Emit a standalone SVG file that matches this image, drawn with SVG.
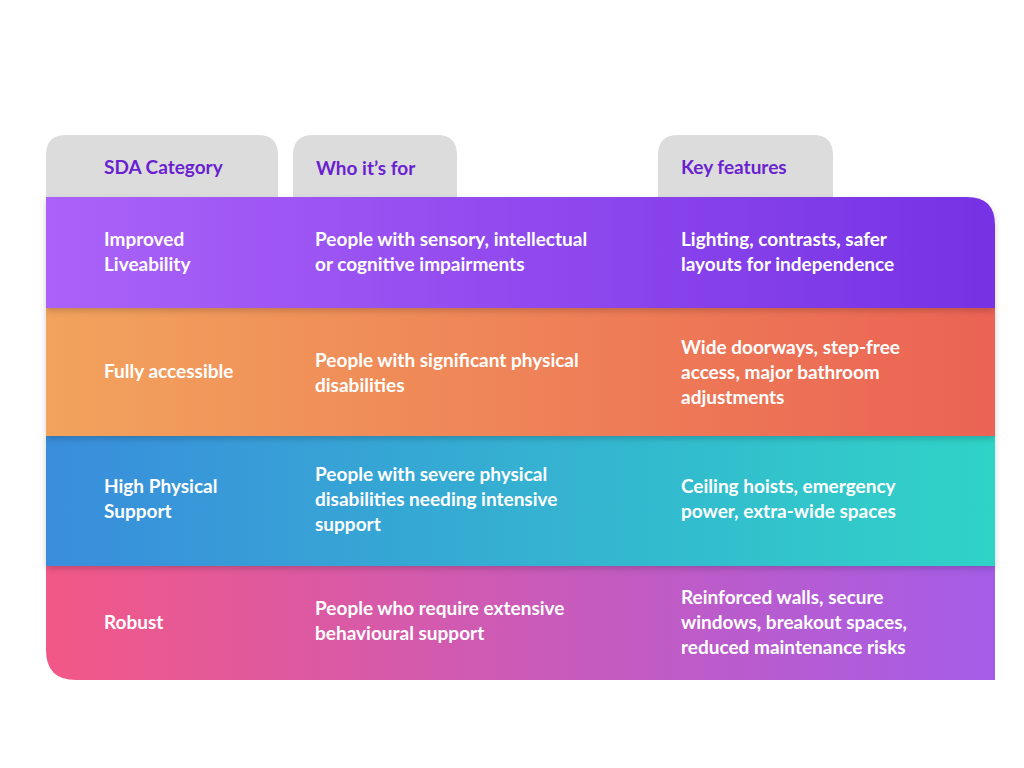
<svg xmlns="http://www.w3.org/2000/svg" width="1024" height="768" viewBox="0 0 1024 768">
<style>
.h{font-family:Lato,"Open Sans",sans-serif;font-weight:700;font-size:19px;fill:#6a1fd0}
.t{font-family:Lato,"Open Sans",sans-serif;font-weight:700;font-size:19px;fill:#fff}
.tab{fill:#dcdcdc}
</style>
<defs>
<linearGradient id="g1" x1="0" x2="1"><stop offset="0" stop-color="#ab62f9"/><stop offset="1" stop-color="#7632e4"/></linearGradient>
<linearGradient id="g2" x1="0" x2="1"><stop offset="0" stop-color="#f2a35c"/><stop offset="1" stop-color="#eb6354"/></linearGradient>
<linearGradient id="g3" x1="0" x2="1"><stop offset="0" stop-color="#3a8ddc"/><stop offset="1" stop-color="#2fd3c7"/></linearGradient>
<linearGradient id="g4" x1="0" x2="1"><stop offset="0" stop-color="#f25886"/><stop offset="1" stop-color="#a55de8"/></linearGradient>
<filter id="sh" x="-5%" y="-20%" width="110%" height="140%"><feDropShadow dx="0" dy="3" stdDeviation="3" flood-color="#000" flood-opacity="0.18"/></filter>
</defs>
<rect width="1024" height="768" fill="#fff"/>
<g id="headers">
<path class="tab" d="M46,197 V155 Q46,135 66,135 H258 Q278,135 278,155 V197 Z"/>
<path class="tab" d="M293,197 V155 Q293,135 313,135 H437 Q457,135 457,155 V197 Z"/>
<path class="tab" d="M658,197 V155 Q658,135 678,135 H813 Q833,135 833,155 V197 Z"/>
<text class="h" x="104" y="174">SDA Category</text>
<text class="h" x="316" y="175">Who it’s for</text>
<text class="h" x="681" y="174">Key features</text>
</g>
<g id="row4">
<path d="M46,566 H995 V680 H76 Q46,680 46,650 Z" fill="url(#g4)"/>
<text class="t" x="104" y="629">Robust</text>
<text class="t" x="315" y="615">People who require extensive</text>
<text class="t" x="315" y="640">behavioural support</text>
<text class="t" x="681" y="604">Reinforced walls, secure</text>
<text class="t" x="681" y="629">windows, breakout spaces,</text>
<text class="t" x="681" y="654">reduced maintenance risks</text>
</g>
<g id="row3">
<rect x="46" y="436" width="949" height="130" fill="url(#g3)" filter="url(#sh)"/>
<text class="t" x="104" y="493">High Physical</text>
<text class="t" x="104" y="518">Support</text>
<text class="t" x="315" y="481">People with severe physical</text>
<text class="t" x="315" y="506">disabilities needing intensive</text>
<text class="t" x="315" y="531">support</text>
<text class="t" x="681" y="493">Ceiling hoists, emergency</text>
<text class="t" x="681" y="518">power, extra-wide spaces</text>
</g>
<g id="row2">
<rect x="46" y="308" width="949" height="128" fill="url(#g2)" filter="url(#sh)"/>
<text class="t" x="104" y="378">Fully accessible</text>
<text class="t" x="315" y="367">People with significant physical</text>
<text class="t" x="315" y="392">disabilities</text>
<text class="t" x="681" y="354">Wide doorways, step-free</text>
<text class="t" x="681" y="379">access, major bathroom</text>
<text class="t" x="681" y="404">adjustments</text>
</g>
<g id="row1">
<path d="M46,197 H967 Q995,197 995,225 V308 H46 Z" fill="url(#g1)" filter="url(#sh)"/>
<text class="t" x="104" y="246">Improved</text>
<text class="t" x="104" y="271">Liveability</text>
<text class="t" x="315" y="246">People with sensory, intellectual</text>
<text class="t" x="315" y="271">or cognitive impairments</text>
<text class="t" x="681" y="246">Lighting, contrasts, safer</text>
<text class="t" x="681" y="271">layouts for independence</text>
</g>
<g id="connectors"/>
</svg>
